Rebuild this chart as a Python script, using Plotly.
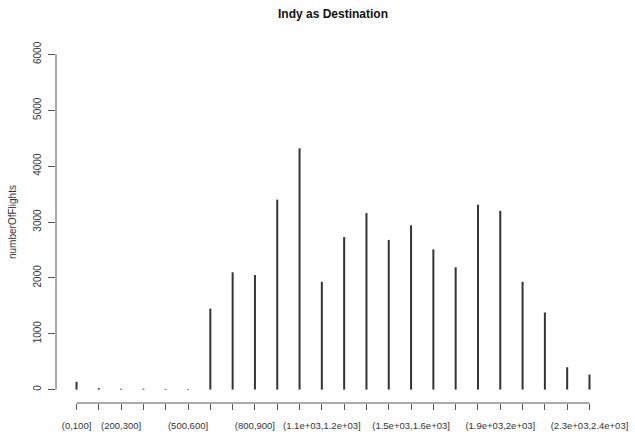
import plotly.graph_objects as go

# Distance bins (miles) and number of flights arriving in Indianapolis
bins = ["(0,100]", "(100,200]", "(200,300]", "(300,400]", "(400,500]", "(500,600]",
        "(600,700]", "(700,800]", "(800,900]", "(900,1e+03]", "(1e+03,1.1e+03]",
        "(1.1e+03,1.2e+03]", "(1.2e+03,1.3e+03]", "(1.3e+03,1.4e+03]",
        "(1.4e+03,1.5e+03]", "(1.5e+03,1.6e+03]", "(1.6e+03,1.7e+03]",
        "(1.7e+03,1.8e+03]", "(1.8e+03,1.9e+03]", "(1.9e+03,2e+03]",
        "(2e+03,2.1e+03]", "(2.1e+03,2.2e+03]", "(2.2e+03,2.3e+03]",
        "(2.3e+03,2.4e+03]"]
flights = [140, 25, 15, 15, 10, 10, 1450, 2100, 2050, 3400, 4320, 1930,
           2730, 3160, 2680, 2940, 2510, 2190, 3310, 3200, 1930, 1380, 400, 270]
# bin labels that fit along the axis without overlapping
shown_labels = ["(0,100]", "(200,300]", "(500,600]", "(800,900]",
                "(1.1e+03,1.2e+03]", "(1.5e+03,1.6e+03]", "(1.9e+03,2e+03]",
                "(2.3e+03,2.4e+03]"]
y_ticks = [0, 1000, 2000, 3000, 4000, 5000, 6000]

pos = list(range(1, len(bins) + 1))

# vertical "h"-style lines from zero up to each count
xs, ys = [], []
for p, v in zip(pos, flights):
    xs += [p, p, None]
    ys += [0, v, None]

ink = "#333333"
axis_col = "#555555"
font = "Liberation Sans, Arial, sans-serif"

fig = go.Figure()
fig.add_trace(go.Scatter(x=xs, y=ys, mode="lines",
                         line=dict(color=ink, width=2), hoverinfo="skip",
                         showlegend=False))

x_lo, x_hi = pos[0], pos[-1]
pad_x = (x_hi - x_lo) * 0.04
y_lo, y_hi = y_ticks[0], y_ticks[-1]
pad_y = (y_hi - y_lo) * 0.04

fig.update_layout(
    width=635, height=435,
    margin=dict(l=56, r=25, t=41, b=32),
    paper_bgcolor="white", plot_bgcolor="white",
    font=dict(family=font, color=ink, size=10),
    title=dict(text="<b>Indy as Destination</b>",
               font=dict(family=font, size=12, color="#111111"),
               x=(56 + 610) / 2 / 635, xanchor="center",
               y=1 - 13.5 / 435, yanchor="middle", yref="container"),
    xaxis=dict(range=[x_lo - pad_x, x_hi + pad_x], showgrid=False, zeroline=False,
               showline=False, ticks="outside", ticklen=6, tickcolor=axis_col,
               tickvals=pos,
               ticktext=[b if b in shown_labels else "" for b in bins],
               tickfont=dict(size=9.5, color=ink), tickangle=0,
               ticklabelstandoff=8, automargin=False),
    yaxis=dict(range=[y_lo - pad_y, y_hi + pad_y], showgrid=False, zeroline=False,
               showline=False, ticks="outside", ticklen=7, tickcolor=axis_col,
               tickvals=y_ticks, ticktext=[str(t) for t in y_ticks],
               tickfont=dict(size=10, color=ink), tickangle=-90,
               ticklabelstandoff=3, automargin=False),
)

# axis lines spanning only the tick range
fig.add_shape(type="line", xref="x", yref="paper", x0=x_lo, x1=x_hi, y0=0, y1=0,
              line=dict(color=axis_col, width=1))
fig.add_shape(type="line", xref="paper", yref="y", x0=0, x1=0, y0=y_lo, y1=y_hi,
              line=dict(color=axis_col, width=1))

fig.add_annotation(text="numberOfFlights", xref="paper", yref="paper",
                   x=0, y=0.5, xanchor="center", yanchor="middle",
                   xshift=-44, textangle=-90, showarrow=False,
                   font=dict(size=10, color=ink))

fig.write_html("out.html")
